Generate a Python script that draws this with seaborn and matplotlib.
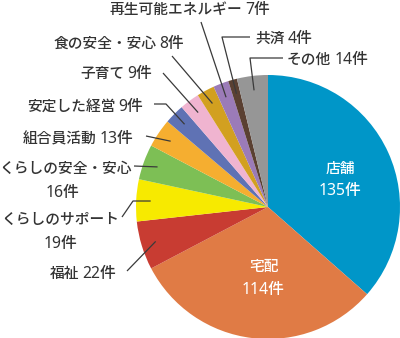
import numpy as np
import matplotlib
matplotlib.use("Agg")
import matplotlib.pyplot as plt
import seaborn as sns

categories = ["店舗", "宅配", "福祉", "くらしのサポート", "くらしの安全・安心",
              "組合員活動", "安定した経営", "子育て", "食の安全・安心",
              "再生可能エネルギー", "共済", "その他"]
counts = [135, 114, 22, 19, 16, 13, 9, 9, 8, 7, 4, 14]
unit = "件"
colors = ["#0096c8", "#e07b45", "#c83c32", "#f7ea00", "#7dbf55", "#f5ae30",
          "#5f72b4", "#f0b4d0", "#d2a020", "#9b7bb8", "#5a4032", "#969696"]

sns.set_theme(style="white")
plt.rcParams['font.family'] = ['Noto Sans CJK JP', 'DejaVu Sans']

W, H = 400, 338
fig = plt.figure(figsize=(W / 100, H / 100), dpi=100)
ax = fig.add_axes([0, 0, 1, 1])

def Y(py):
    return H - py

cx, cy, R = 268, Y(207), 132
ax.pie(counts, colors=sns.color_palette(colors), startangle=90, counterclock=False,
       center=(cx, cy), radius=R, wedgeprops=dict(linewidth=0))
ax.set_xlim(0, W)
ax.set_ylim(0, H)
ax.set_aspect('equal')
ax.axis('off')

total = sum(counts)
cum = np.cumsum([0] + counts)

def wedge_point(i, frac):
    mid = (cum[i] + cum[i + 1]) / 2
    th = np.deg2rad(90 - mid / total * 360)
    return cx + frac * R * np.cos(th), cy + frac * R * np.sin(th)

txt = "#333333"
WEIGHT = "medium"
FONTS = {
    "cjk": (['Noto Sans CJK JP', 'DejaVu Sans'], 10.6),
    "num": (['Noto Sans', 'Noto Sans CJK JP', 'DejaVu Sans'], 11.3),
}
renderer = fig.canvas.get_renderer()

def label(x, yb, parts, ha="left", color=txt):
    arts, widths = [], []
    for s, kind in parts:
        if s == "gap":
            arts.append(None)
            widths.append(kind)
            continue
        fam, size = FONTS[kind]
        t = ax.text(0, 0, s, fontsize=size, family=fam, color=color,
                    ha="left", va="baseline", fontweight=WEIGHT)
        bb = t.get_window_extent(renderer)
        arts.append(t)
        widths.append(bb.width)
    tw = sum(widths)
    cur = x if ha == "left" else (x - tw / 2 if ha == "center" else x - tw)
    for a, w in zip(arts, widths):
        if a is not None:
            a.set_position((cur, Y(yb)))
        cur += w

def num_part(i):
    return (f"{counts[i]}{unit}", "num")

# inside labels
label(340, 173, [(categories[0], "cjk")], "center", "white")
label(340, 195, [num_part(0)], "center", "white")
label(264, 271, [(categories[1], "cjk")], "center", "white")
label(263, 294, [num_part(1)], "center", "white")

# outside labels: single-line (left x, baseline)
one_line = {2: (50, 278), 5: (23, 143), 6: (27, 111), 7: (80, 78),
            8: (53, 48), 9: (110, 14), 10: (255, 43), 11: (287, 64)}
for i, (lx, yb) in one_line.items():
    label(lx, yb, [(categories[i], "cjk"), ("gap", 3), num_part(i)], "left")

label(0, 173, [(categories[4], "cjk")], "left")
label(62, 197, [num_part(4)], "center")
label(2, 224, [(categories[3], "cjk")], "left")
label(60, 248, [num_part(3)], "center")

# leader lines (points near the label, then to the wedge)
paths = {
    2: [(127, 271)],
    3: [(122, 217), (133, 201)],
    4: [(134, 166)],
    5: [(146, 136)],
    6: [(154, 104), (166, 104)],
    7: [(163, 73)],
    8: [(172, 56)],
    9: [(201, 22)],
    10: [(250, 37), (222, 37)],
    11: [(283, 58), (250, 58)],
}
for i, path in paths.items():
    ex, ey = wedge_point(i, 0.89)
    xs = [p[0] for p in path] + [ex]
    ys = [Y(p[1]) for p in path] + [ey]
    ax.plot(xs, ys, color="#3a3a3a", lw=0.9, solid_capstyle="butt")

fig.savefig("out.png", dpi=100)
